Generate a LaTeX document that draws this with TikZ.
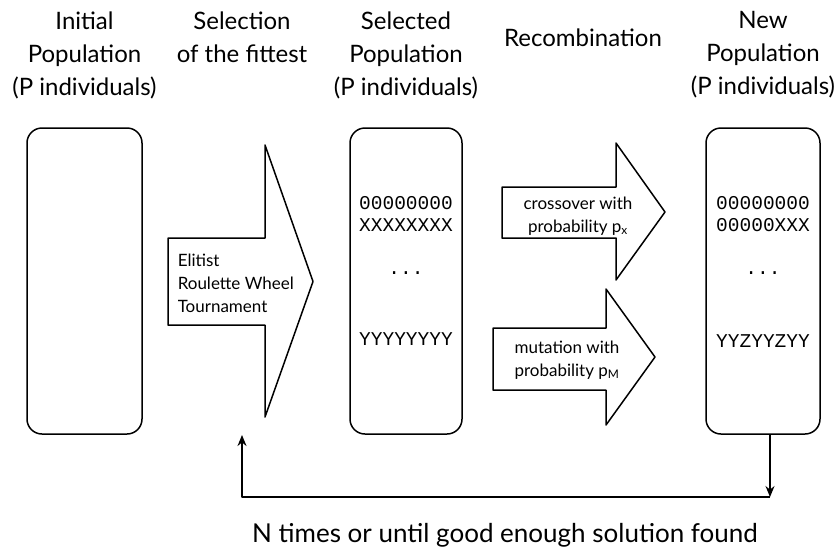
\documentclass[tikz,border=0pt]{standalone}
\usepackage{fontspec}
\setmainfont{Lato}
\newfontfamily\codefont{Liberation Mono}
\usetikzlibrary{arrows.meta}

\begin{document}
\begin{tikzpicture}[x=1pt,y=-1pt,line width=1.5pt,line join=round]

      \useasboundingbox (0,0) rectangle (837,550);

      % headings
      \begin{scope}[every node/.style={align=center, inner sep=0pt, font=\fontsize{24}{33}\selectfont}]
        \node[anchor=north] (hinit) at (84.5,11)  {Initial\\Population\\(P individuals)};
        \node[anchor=north] (hsel)  at (242,11)   {Selection\\of the fittest};
        \node[anchor=north] (hpop)  at (406,11)   {Selected\\Population\\(P individuals)};
        \node               (hrec)  at (583,38)   {Recombination};
        \node[anchor=north] (hnew)  at (763,11)   {New\\Population\\(P individuals)};
      \end{scope}

      % population boxes
      \begin{scope}[every node/.style={draw, rounded corners=15pt, minimum height=306pt}]
        \node[minimum width=115pt] (init) at (84.5,281) {};
        \node[minimum width=112pt] (sel)  at (406,281)  {};
        \node[minimum width=114pt] (new)  at (763,281)  {};
      \end{scope}

      % individuals
      \begin{scope}[every node/.style={inner sep=0pt, font=\codefont\fontsize{19.5}{20}\selectfont}]
        \node (s1) at (406,203) {00000000};
        \node (s2) at (406,225) {XXXXXXXX};
        \node (s3) at (406,273) {...};
        \node (s4) at (406,339) {YYYYYYYY};
        \node (n1) at (763,203) {00000000};
        \node (n2) at (763,225) {00000XXX};
        \node (n3) at (763,273) {...};
        \node (n4) at (763,341) {YYZYYZYY};
      \end{scope}

      % fat arrows
      \draw (168,238) -- (265,238) -- (265,145) -- (313,281.5) -- (265,417) -- (265,325) -- (168,325) -- cycle;
      \draw (502,187) -- (616,187) -- (616,143) -- (665,212) -- (616,280) -- (616,238) -- (502,238) -- cycle;
      \draw (493,328) -- (606,328) -- (606,289) -- (655,357) -- (606,425) -- (606,390) -- (493,390) -- cycle;

      \begin{scope}[every node/.style={inner sep=0pt, font=\fontsize{17}{23}\selectfont}]
        \node[anchor=west, align=left] (selop) at (177,283) {Elitist\\Roulette Wheel\\Tournament};
        \node[align=center] (cross) at (578,216) {crossover with\\probability p\textsubscript{x}};
        \node[align=center] (mut)   at (567,360) {mutation with\\probability p\textsubscript{M}};
      \end{scope}

      % loop back
      \coordinate (loopR) at (770,497);
      \coordinate (loopL) at (242,497);
      \coordinate (loopT) at (242,435);
      \draw[-{Stealth[length=11pt,width=9pt]}] (new.south -| loopR) -- (loopR);
      \draw[-{Stealth[length=11pt,width=9pt]}] (loopR) -- (loopL) -- (loopT);

      \node[font=\fontsize{26}{30}\selectfont, inner sep=0pt] (loop) at (505,535) {N times or until good enough solution found};

    \end{tikzpicture}
\end{document}
